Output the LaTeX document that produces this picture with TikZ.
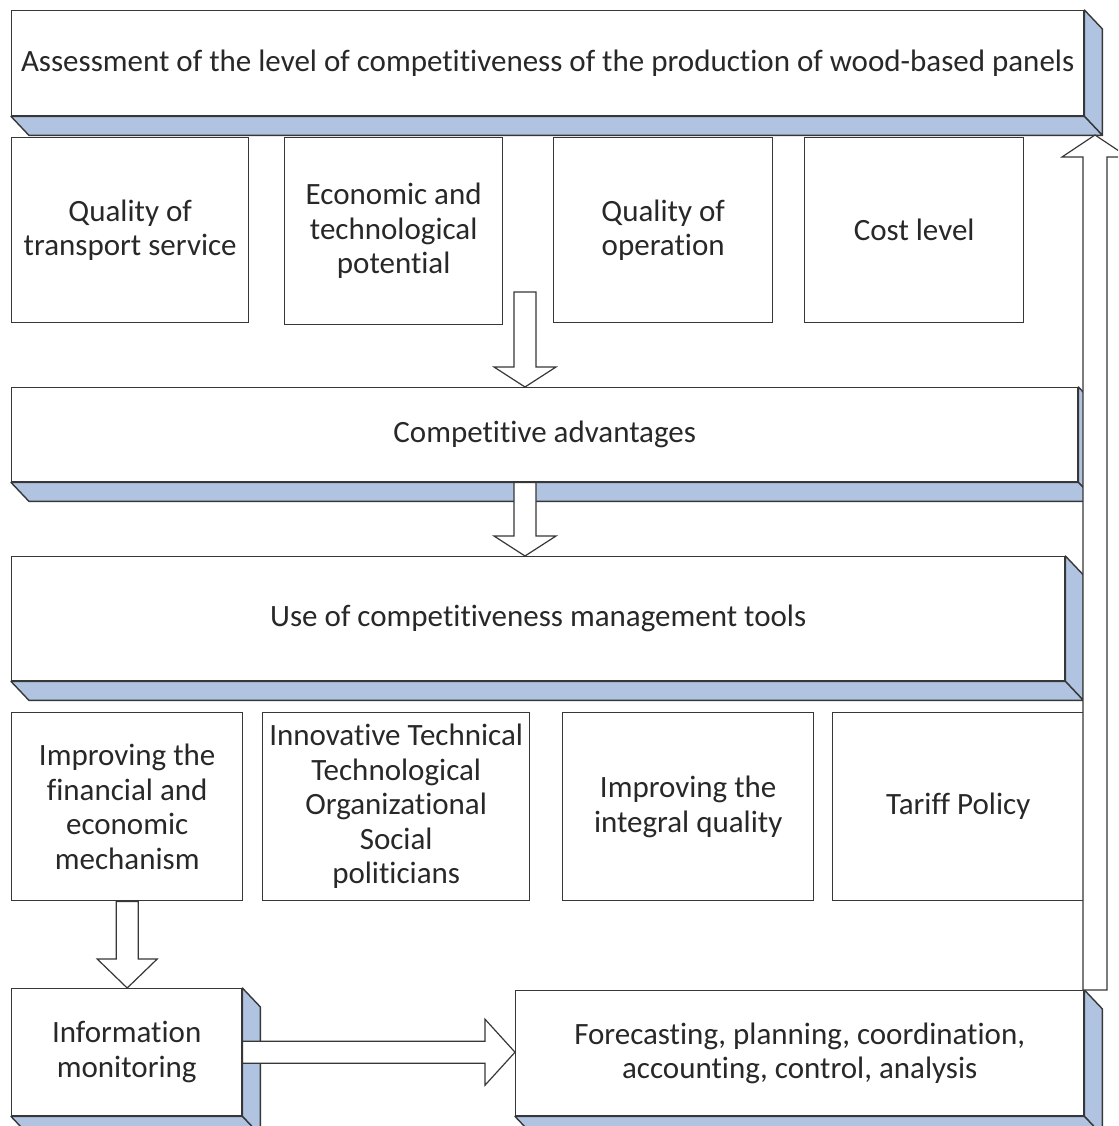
\documentclass[tikz,border=0pt]{standalone}
\usepackage{fontspec}
\setmainfont{Carlito}[Ligatures=NoCommon]
\usetikzlibrary{positioning,calc}
\definecolor{edgegray}{RGB}{55,55,55}
\definecolor{slabblue}{RGB}{176,196,226}
\definecolor{inkgray}{RGB}{40,40,40}
\tikzset{
  plate/.style={draw=edgegray,fill=white,line width=1.4pt,inner sep=0pt,anchor=north west,
                align=center,text=inkgray,font=\fontsize{31}{34.5}\selectfont},
  slabface/.style={draw=edgegray,fill=slabblue,line width=1.4pt,line join=round},
  hollow/.style={draw=edgegray,fill=white,line width=1.2pt,line join=miter}
}
% blue side and bottom faces of a 3D plate
\newcommand{\extrude}[1]{%
  \filldraw[slabface] (#1.north east) -- ++(18,19) -- ($(#1.south east)+(18,19)$) -- (#1.south east) -- cycle;
  \filldraw[slabface] (#1.south west) -- (#1.south east) -- ++(18,19) -- ($(#1.south west)+(18,19)$) -- cycle;}
% hollow block arrows: start, tip, head half width, head length
\newcommand{\hollowdown}[4]{%
  \draw[hollow] let \p1=(#1), \p2=(#2) in
    (\x1-11pt,\y1) -- (\x1-11pt,\y2+#4) -- (\x1-#3,\y2+#4) -- (\x1,\y2)
    -- (\x1+#3,\y2+#4) -- (\x1+11pt,\y2+#4) -- (\x1+11pt,\y1) -- cycle;}
\newcommand{\hollowup}[4]{%
  \draw[hollow] let \p1=(#1), \p2=(#2) in
    (\x1-12pt,\y1) -- (\x1-12pt,\y2-#4) -- (\x1-#3,\y2-#4) -- (\x1,\y2)
    -- (\x1+#3,\y2-#4) -- (\x1+12pt,\y2-#4) -- (\x1+12pt,\y1) -- cycle;}
\newcommand{\hollowright}[4]{%
  \draw[hollow] let \p1=(#1), \p2=(#2) in
    (\x1,\y1+11pt) -- (\x2-#4,\y1+11pt) -- (\x2-#4,\y1+#3) -- (\x2,\y1)
    -- (\x2-#4,\y1-#3) -- (\x2-#4,\y1-11pt) -- (\x1,\y1-11pt) -- cycle;}

\begin{document}
\begin{tikzpicture}[x=1pt,y=-1pt]
  \useasboundingbox (0,0) rectangle (1118,1126);
  \clip (0,0) rectangle (1118,1126);
  \fill[white] (0,0) rectangle (1118,1126);

  % top plate
  \node[plate,minimum width=1072,minimum height=105] (title) at (11,10)
    {Assessment of the level of competitiveness of the production of wood-based panels};
  \extrude{title}

  % factors
  \node[plate,minimum width=237,minimum height=185] (trans) at (11,137) {Quality of\\transport service};
  \node[plate,minimum width=218,minimum height=187] (econ) at (284,137) {Economic and\\technological\\potential};
  \node[plate,minimum width=219,minimum height=185] (oper) at (553,137) {Quality of\\operation};
  \node[plate,minimum width=219,minimum height=185] (cost) at (804,137) {Cost level};

  \node[plate,minimum width=1066,minimum height=94] (adv) at (11,387) {Competitive advantages};
  \extrude{adv}

  \node[plate,minimum width=1053,minimum height=124] (use) at (11,556) {Use of competitiveness management tools};
  \extrude{use}

  % tools
  \node[plate,minimum width=231,minimum height=188] (fin) at (11,712) {Improving the\\financial and\\economic\\mechanism};
  \node[plate,minimum width=267,minimum height=188] (innov) at (262,712) {Innovative Technical\\Technological\\Organizational\\Social\\politicians};
  \node[plate,minimum width=251,minimum height=188] (integ) at (562,712) {Improving the\\integral quality};
  \node[plate,minimum width=251,minimum height=188] (tariff) at (832,712) {Tariff Policy};

  \node[plate,minimum width=230,minimum height=127] (info) at (11,988) {Information\\monitoring};
  \extrude{info}
  \node[plate,minimum width=568,minimum height=125] (fore) at (515,990) {Forecasting, planning, coordination,\\accounting, control, analysis};
  \extrude{fore}

  % arrows
  \coordinate (a1top) at (525,292);
  \coordinate (fbfoot) at (1095,990);
  \coordinate (fbtip) at (1095,135);
  \hollowdown{a1top}{adv.north -| a1top}{31pt}{20pt}
  \hollowdown{adv.south -| a1top}{use.north -| a1top}{31pt}{20pt}
  \hollowdown{fin.south}{info.north}{30pt}{29pt}
  \hollowright{info.east}{fore.west}{33pt}{30pt}
  \hollowup{fbfoot}{fbtip}{33pt}{22pt}
\end{tikzpicture}
\end{document}
